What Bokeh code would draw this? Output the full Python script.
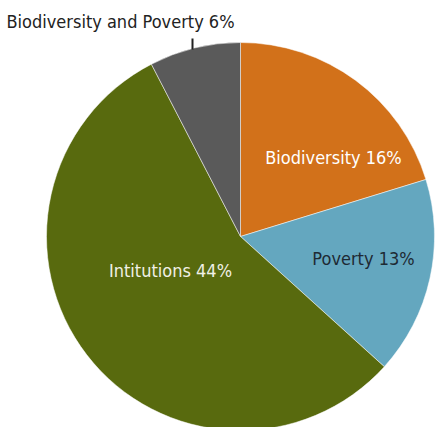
import math
from bokeh.plotting import figure
from bokeh.models import Range1d, ColumnDataSource
from bokeh.core.properties import value
from bokeh.embed import file_html
from bokeh.resources import INLINE

categories = ["Biodiversity", "Poverty", "Intitutions", "Biodiversity and Poverty"]
values = [16, 13, 44, 6]
colors = ["#D2711A", "#64A7BF", "#586A0E", "#5A5A5A"]
text_colors = ["#FFFFFF", "#1E2A33", "#F0F0E6", "#222222"]

W, H = 435, 427
cx, cy, r = 240, H - 236, 194

total = sum(values)
starts, ends = [], []
acc = 0.0
for v in values:
    a0 = math.pi / 2 - 2 * math.pi * (acc + v) / total
    a1 = math.pi / 2 - 2 * math.pi * acc / total
    starts.append(a0)
    ends.append(a1)
    acc += v

src = ColumnDataSource(dict(start=starts, end=ends, color=colors,
                            x=[cx] * 4, y=[cy] * 4))

p = figure(width=W, height=H, output_backend="svg", toolbar_location=None,
           x_range=Range1d(0, W), y_range=Range1d(0, H), min_border=0)
p.axis.visible = False
p.grid.visible = False
p.outline_line_color = None
p.background_fill_color = "white"
p.border_fill_color = "white"

p.wedge(x="x", y="y", radius=r, start_angle="start", end_angle="end",
        fill_color="color", line_color="white", line_width=0.5, source=src)

labels = [f"{c} {v}%" for c, v in zip(categories, values)]
lx = [333, 363, 170, 120]
ly = [H - 157, H - 258, H - 270, H - 21]

p.segment(x0=[192], y0=[H - 38], x1=[192], y1=[H - 49], line_color="#222222", line_width=2)

p.text(x=lx, y=ly, text=labels, text_color=text_colors,
       text_font=value("DejaVu Sans Condensed"), text_font_size="18px",
       text_align="center", text_baseline="middle")

open("out.html", "w").write(file_html(p, INLINE))
